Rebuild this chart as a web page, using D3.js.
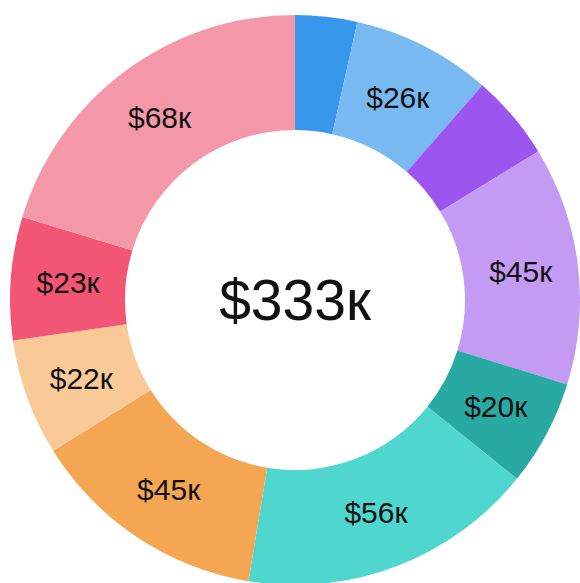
<!DOCTYPE html>
<html><head><meta charset="utf-8">
<script src="https://cdn.jsdelivr.net/npm/d3@7"></script>
<style>html,body{margin:0;padding:0;background:#fff;}svg{display:block;font-family:"Liberation Sans",Arial,Helvetica,sans-serif;}</style>
</head><body>
<svg id="chart" width="580" height="583"></svg>
<script>
const categories = ["A","B","C","D","E","F","G","H","I","J"];
const values = [11.7, 26.3, 16.2, 45, 20, 56, 45, 22, 23.2, 67.6];
const colors = ["#3797eb","#79b9f2","#9d55f0","#c39bf3","#28aaa3","#4fd6cf","#f5a652","#f9ca97","#f35574","#f498a9"];
const showLabel = [false,true,false,true,true,true,true,true,true,true];
const totalLabel = "$333к";

const svg = d3.select("#chart");
const cx = 295, cy = 300, rOuter = 285, rInner = 170;
const g = svg.append("g").attr("transform", `translate(${cx},${cy})`);
const pie = d3.pie().value(d => d.v).sort(null);
const data = pie(categories.map((c,i) => ({c, v: values[i], i})));
const arc = d3.arc().innerRadius(rInner).outerRadius(rOuter);
g.selectAll("path").data(data).join("path")
  .attr("d", arc).attr("fill", d => colors[d.data.i]);
g.selectAll("text.lbl").data(data.filter(d => showLabel[d.data.i])).join("text")
  .attr("class","lbl")
  .attr("transform", d => `translate(${arc.centroid(d)})`)
  .attr("text-anchor","middle").attr("dy","0.35em")
  .attr("font-size", 30).attr("fill","#111")
  .text(d => "$" + Math.round(d.data.v) + "к");
g.append("text").attr("text-anchor","middle").attr("dy","0.35em")
  .attr("font-size", 57).attr("fill","#111").text(totalLabel);
</script>
</body></html>
